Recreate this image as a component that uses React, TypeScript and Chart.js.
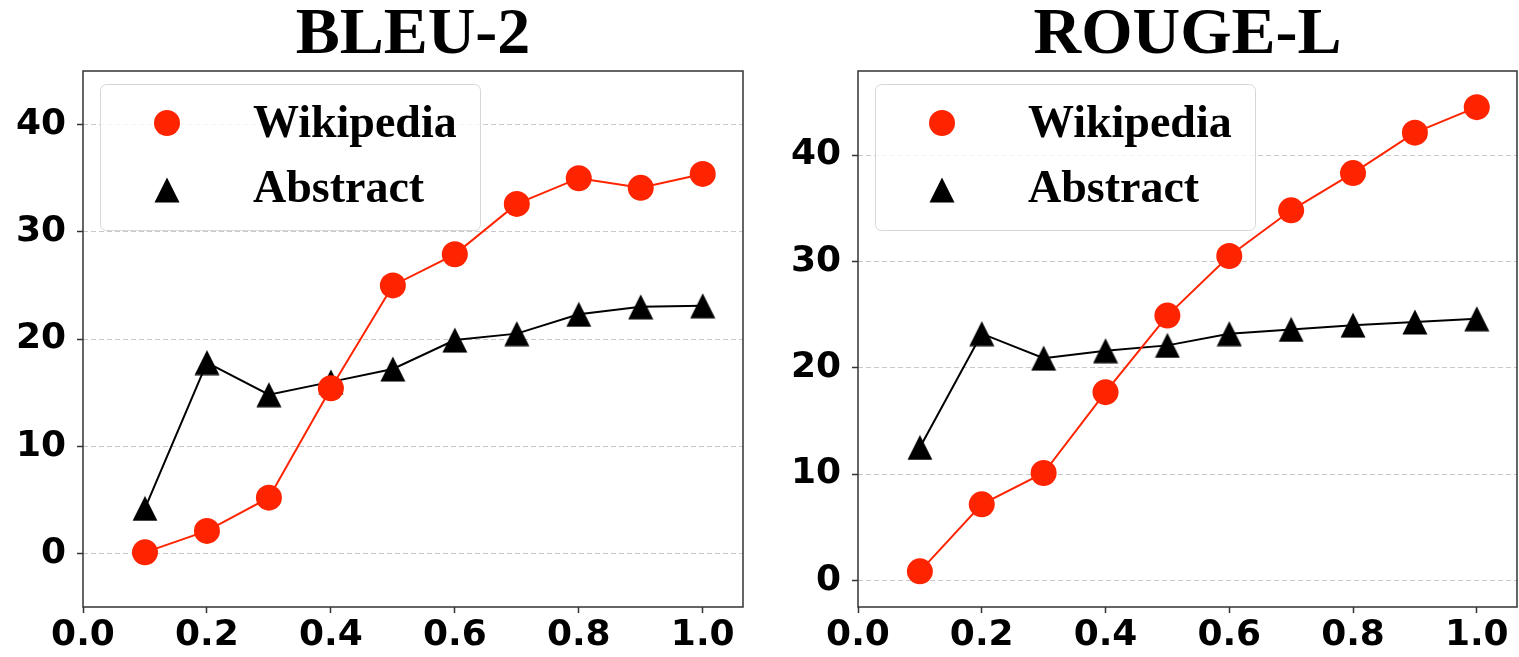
import React, { useEffect, useRef } from 'react';
import { Chart, registerables } from 'chart.js';

Chart.register(...registerables);

// ---- data ----
const xValues = [0.1, 0.2, 0.3, 0.4, 0.5, 0.6, 0.7, 0.8, 0.9, 1.0];
const xTicks = [0.0, 0.2, 0.4, 0.6, 0.8, 1.0];
const seriesLabels = ['Wikipedia', 'Abstract'];

const bleuTitle = 'BLEU-2';
const bleuWikipedia = [0.1, 2.1, 5.2, 15.4, 25.0, 27.9, 32.6, 35.0, 34.1, 35.4];
const bleuAbstract = [4.2, 17.8, 14.8, 16.0, 17.2, 19.9, 20.5, 22.3, 23.0, 23.1];
const bleuYTicks = [0, 10, 20, 30, 40];

const rougeTitle = 'ROUGE-L';
const rougeWikipedia = [0.85, 7.15, 10.1, 17.7, 24.9, 30.5, 34.8, 38.3, 42.1, 44.5];
const rougeAbstract = [12.5, 23.2, 20.9, 21.6, 22.1, 23.2, 23.6, 24.0, 24.3, 24.6];
const rougeYTicks = [0, 10, 20, 30, 40];

const RED = '#ff2400';
const BLACK = '#000000';

function makeTriangle(size: number): HTMLCanvasElement {
  const c = document.createElement('canvas');
  c.width = size;
  c.height = size;
  const g = c.getContext('2d')!;
  g.fillStyle = BLACK;
  g.beginPath();
  g.moveTo(size / 2, 0.5);
  g.lineTo(size - 0.5, size - 0.5);
  g.lineTo(0.5, size - 0.5);
  g.closePath();
  g.fill();
  return c;
}

function buildChart(
  canvas: HTMLCanvasElement,
  title: string,
  wiki: number[],
  abs: number[],
  yTicks: number[],
  yMin: number,
  yMax: number,
  yAxisWidth: number,
  rightPad: number,
  tri: HTMLCanvasElement
) {
  const toPoints = (arr: number[]) => xValues.map((x, i) => ({ x, y: arr[i] }));

  const decorPlugin = {
    id: 'decor',
    afterDatasetsDraw(chart: any) {
      const ctx = chart.ctx as CanvasRenderingContext2D;
      const { left, top, right, bottom } = chart.chartArea;
      ctx.save();
      // legend box
      const bx = left + 17;
      const by = top + 13;
      const bw = 380;
      const bh = 146;
      ctx.beginPath();
      (ctx as any).roundRect(bx + 0.5, by + 0.5, bw, bh, 6);
      ctx.fillStyle = 'rgba(255,255,255,0.8)';
      ctx.fill();
      ctx.strokeStyle = '#d6d6d6';
      ctx.lineWidth = 1;
      ctx.stroke();
      const mx = left + 84;
      ctx.fillStyle = RED;
      ctx.beginPath();
      ctx.arc(mx, top + 52, 13, 0, Math.PI * 2);
      ctx.fill();
      ctx.drawImage(tri, mx - tri.width / 2, top + 119 - tri.height / 2);
      ctx.fillStyle = '#000';
      ctx.font = 'bold 46px "Liberation Serif"';
      ctx.textAlign = 'left';
      ctx.textBaseline = 'alphabetic';
      ctx.fillText(chart.data.datasets[0].label, left + 170, top + 66);
      ctx.fillText(chart.data.datasets[1].label, left + 170, top + 131);
      // frame
      ctx.strokeStyle = '#333333';
      ctx.lineWidth = 1.5;
      ctx.strokeRect(left, top, right - left, bottom - top);
      ctx.restore();
    },
  };

  const tickFont = { family: 'DejaVu Sans', size: 36, weight: 'bold' as const };

  return new Chart(canvas, {
    type: 'line',
    data: {
      datasets: [
        {
          label: seriesLabels[0],
          data: toPoints(wiki),
          borderColor: RED,
          backgroundColor: RED,
          borderWidth: 2,
          pointStyle: 'circle',
          pointRadius: 13,
          pointBorderWidth: 0,
          pointBackgroundColor: RED,
          tension: 0,
        },
        {
          label: seriesLabels[1],
          data: toPoints(abs),
          borderColor: BLACK,
          backgroundColor: BLACK,
          borderWidth: 2,
          pointStyle: tri,
          pointRadius: 13,
          tension: 0,
        },
      ],
    },
    options: {
      animation: false,
      responsive: false,
      layout: { autoPadding: false, padding: { left: 0, right: rightPad, top: 0, bottom: 0 } },
      plugins: {
        legend: { display: false },
        tooltip: { enabled: false },
        title: {
          display: true,
          text: title,
          color: '#000',
          fullSize: false,
          font: { family: 'Liberation Serif', size: 66, weight: 'bold', lineHeight: 1.0 },
          padding: { top: 3, bottom: 2 },
        } as any,
      },
      scales: {
        x: {
          type: 'linear',
          min: 0,
          max: 1.065,
          afterBuildTicks: (axis: any) => {
            axis.ticks = xTicks.map((v) => ({ value: v }));
          },
          afterFit: (s: any) => {
            s.height = 50;
            s.paddingLeft = 0;
            s.paddingRight = 0;
          },
          grid: {
            drawOnChartArea: false,
            drawTicks: true,
            tickLength: 6,
            tickColor: '#333333',
            tickWidth: 1.5,
          },
          border: { display: false },
          ticks: {
            color: '#000',
            font: tickFont,
            padding: 1,
            maxRotation: 0,
            autoSkip: false,
            callback: (v: any) => Number(v).toFixed(1),
          },
        },
        y: {
          type: 'linear',
          min: yMin,
          max: yMax,
          afterBuildTicks: (axis: any) => {
            axis.ticks = yTicks.map((v) => ({ value: v }));
          },
          afterFit: (s: any) => {
            s.width = yAxisWidth;
            s.paddingTop = 0;
            s.paddingBottom = 0;
          },
          grid: {
            color: '#c8c8c8',
            lineWidth: 1,
            drawTicks: true,
            tickLength: 6,
            tickColor: '#333333',
            tickWidth: 1.5,
            tickBorderDash: [],
          },
          border: { display: false, dash: [5, 3] },
          ticks: {
            color: '#000',
            font: tickFont,
            padding: 11,
            autoSkip: false,
            callback: (v: any) => String(v),
          },
        },
      },
    } as any,
    plugins: [decorPlugin],
  });
}

export default function App() {
  const leftRef = useRef<HTMLCanvasElement>(null);
  const rightRef = useRef<HTMLCanvasElement>(null);

  useEffect(() => {
    const tri = makeTriangle(26);
    const c1 = buildChart(leftRef.current!, bleuTitle, bleuWikipedia, bleuAbstract, bleuYTicks, -5, 45, 83, 17, tri);
    const c2 = buildChart(rightRef.current!, rougeTitle, rougeWikipedia, rougeAbstract, rougeYTicks, -2.5, 47.9, 98, 2, tri);
    return () => {
      c1.destroy();
      c2.destroy();
    };
  }, []);

  return (
    <div style={{ position: 'absolute', left: 0, top: 0, width: 1519, height: 657, background: '#fff', display: 'flex' }}>
      <canvas ref={leftRef} width={760} height={657} style={{ display: 'block', width: 760, height: 657 }} />
      <canvas ref={rightRef} width={759} height={657} style={{ display: 'block', width: 759, height: 657 }} />
    </div>
  );
}
